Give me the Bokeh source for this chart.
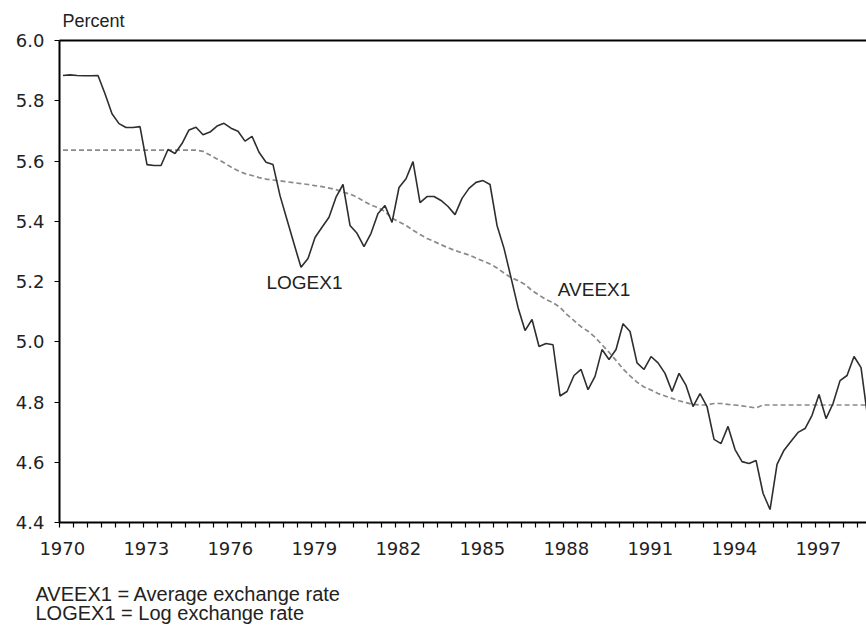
from bokeh.plotting import figure
from bokeh.models import (FixedTicker, LinearAxis, Label, Range1d, Title,
                          PrintfTickFormatter, CustomJSTickFormatter)
from bokeh.embed import file_html
from bokeh.resources import INLINE

# ---------------- data (quarterly, 1970Q1 .. 1998Q4) ----------------
years = list(range(1970, 1999))
quarters = [1, 2, 3, 4]

logex1 = [
    5.884, 5.886, 5.884, 5.883,   # 1970
    5.883, 5.884, 5.823, 5.757,   # 1971
    5.724, 5.711, 5.711, 5.714,   # 1972
    5.588, 5.585, 5.585, 5.638,   # 1973
    5.625, 5.658, 5.703, 5.712,   # 1974
    5.687, 5.696, 5.716, 5.725,   # 1975
    5.709, 5.699, 5.666, 5.682,   # 1976
    5.629, 5.596, 5.588, 5.485,   # 1977
    5.405, 5.325, 5.247, 5.276,   # 1978
    5.346, 5.380, 5.413, 5.480,   # 1979
    5.522, 5.386, 5.360, 5.316,   # 1980
    5.360, 5.426, 5.452, 5.396,   # 1981
    5.512, 5.541, 5.598, 5.462,   # 1982
    5.482, 5.482, 5.469, 5.449,   # 1983
    5.422, 5.476, 5.509, 5.529,   # 1984
    5.535, 5.522, 5.386, 5.310,   # 1985
    5.213, 5.114, 5.037, 5.074,   # 1986
    4.984, 4.994, 4.990, 4.820,   # 1987
    4.835, 4.888, 4.908, 4.841,   # 1988
    4.885, 4.974, 4.941, 4.974,   # 1989
    5.060, 5.034, 4.930, 4.908,   # 1990
    4.951, 4.930, 4.895, 4.835,   # 1991
    4.895, 4.855, 4.785, 4.828,   # 1992
    4.785, 4.676, 4.662, 4.719,   # 1993
    4.642, 4.602, 4.596, 4.606,   # 1994
    4.497, 4.443, 4.593, 4.640,   # 1995
    4.670, 4.699, 4.712, 4.756,   # 1996
    4.825, 4.745, 4.795, 4.871,   # 1997
    4.888, 4.951, 4.914, 4.740,   # 1998
]

aveex1 = [
    5.636, 5.636, 5.636, 5.636,   # 1970
    5.636, 5.636, 5.636, 5.636,   # 1971
    5.636, 5.636, 5.636, 5.636,   # 1972
    5.636, 5.636, 5.636, 5.636,   # 1973
    5.636, 5.636, 5.636, 5.636,   # 1974
    5.632, 5.620, 5.607, 5.594,   # 1975
    5.580, 5.568, 5.558, 5.552,   # 1976
    5.545, 5.540, 5.537, 5.534,   # 1977
    5.531, 5.528, 5.525, 5.522,   # 1978
    5.518, 5.515, 5.510, 5.505,   # 1979
    5.497, 5.490, 5.480, 5.466,   # 1980
    5.454, 5.445, 5.432, 5.410,   # 1981
    5.398, 5.386, 5.370, 5.356,   # 1982
    5.343, 5.333, 5.322, 5.312,   # 1983
    5.303, 5.295, 5.288, 5.278,   # 1984
    5.268, 5.258, 5.245, 5.228,   # 1985
    5.213, 5.203, 5.190, 5.170,   # 1986
    5.155, 5.140, 5.130, 5.114,   # 1987
    5.090, 5.070, 5.050, 5.035,   # 1988
    5.015, 4.990, 4.965, 4.938,   # 1989
    4.910, 4.887, 4.866, 4.850,   # 1990
    4.840, 4.828, 4.820, 4.812,   # 1991
    4.804, 4.798, 4.792, 4.790,   # 1992
    4.790, 4.795, 4.795, 4.792,   # 1993
    4.790, 4.787, 4.784, 4.780,   # 1994
    4.790, 4.790, 4.790, 4.790,   # 1995
    4.790, 4.790, 4.790, 4.790,   # 1996
    4.790, 4.790, 4.790, 4.790,   # 1997
    4.790, 4.790, 4.790, 4.790,   # 1998
]

x_tick_years = [1970, 1973, 1976, 1979, 1982, 1985, 1988, 1991, 1994, 1997]
y_ticks = [4.4, 4.6, 4.8, 5.0, 5.2, 5.4, 5.6, 5.8, 6.0]

series_labels = {"LOGEX1": (1978.75, 5.197), "AVEEX1": (1989.09, 5.173)}
y_unit = "Percent"
notes = ["AVEEX1 = Average exchange rate", "LOGEX1 = Log exchange rate"]

# time coordinate: middle of each quarter
t = [y + (q - 0.5) / 4 for y in years for q in quarters]

TICK_FONT = "DejaVu Sans"
TEXT_FONT = "Liberation Sans"
INK = "#222222"

p = figure(width=866, height=626, output_backend="svg", toolbar_location=None,
           x_range=Range1d(1970.0, 1998.82), y_range=Range1d(4.4, 6.0),
           min_border_left=59, min_border_right=0, min_border_top=40,
           min_border_bottom=104)
p.outline_line_color = None
p.xgrid.visible = False
p.ygrid.visible = False
p.background_fill_color = "white"
p.border_fill_color = "white"

p.line(t, aveex1, line_color="#8a8a8a", line_width=1.7, line_dash="5 3")
p.line(t, logex1, line_color="#2e2e2e", line_width=1.6)

# x axis: unlabeled half-year ticks, year labels
xa = p.xaxis[0]
xa.ticker = FixedTicker(ticks=[y + 0.1 for y in x_tick_years],
                        minor_ticks=[1970 + 0.5 * k for k in range(58)])
xa.formatter = CustomJSTickFormatter(code="return Math.floor(tick).toString()")
xa.axis_line_width = 2
xa.axis_line_color = "black"
xa.major_tick_out = 0
xa.major_tick_in = 0
xa.minor_tick_out = 5
xa.minor_tick_in = 0
xa.minor_tick_line_color = "black"
xa.minor_tick_line_width = 1.2
xa.major_label_standoff = 14
xa.major_label_text_font = TICK_FONT
xa.major_label_text_font_size = "18px"
xa.major_label_text_color = INK

# y axis
ya = p.yaxis[0]
ya.ticker = FixedTicker(ticks=y_ticks, minor_ticks=[])
ya.formatter = PrintfTickFormatter(format="%.1f")
ya.axis_line_width = 2
ya.axis_line_color = "black"
ya.major_tick_out = 5
ya.major_tick_in = 0
ya.major_tick_line_width = 1.2
ya.minor_tick_out = 0
ya.minor_tick_in = 0
ya.major_label_standoff = 10
ya.major_label_text_font = TICK_FONT
ya.major_label_text_font_size = "18px"
ya.major_label_text_color = INK

# top border line
top = LinearAxis(ticker=FixedTicker(ticks=[]), axis_line_width=2,
                 axis_line_color="black", major_tick_out=0, major_tick_in=0,
                 minor_tick_out=0, minor_tick_in=0, major_label_standoff=0,
                 major_label_text_font_size="0px")
p.add_layout(top, "above")

# unit label above the frame
p.add_layout(Title(text=y_unit, align="left", offset=3, standoff=16,
                   vertical_align="top",
                   text_font=TEXT_FONT, text_font_size="18px",
                   text_line_height=1.0, text_font_style="normal",
                   text_color=INK), "above")

# series labels inside the plot
for name, (lx, ly) in series_labels.items():
    p.add_layout(Label(x=lx, y=ly, text=name, text_font=TEXT_FONT,
                       text_font_size="19px", text_color=INK,
                       text_align="center", text_baseline="middle"))

# spacer between the axis labels and the footnotes
p.add_layout(Title(text=" ", text_font_size="1px", standoff=18), "below")

# footnotes below the axis (one two-line title)
p.add_layout(Title(text="\n".join(notes), align="left", offset=-24,
                   standoff=4, text_font=TEXT_FONT, text_font_size="20px",
                   text_line_height=0.9, text_font_style="normal",
                   text_color=INK), "below")

open("out.html", "w").write(file_html(p, INLINE))
